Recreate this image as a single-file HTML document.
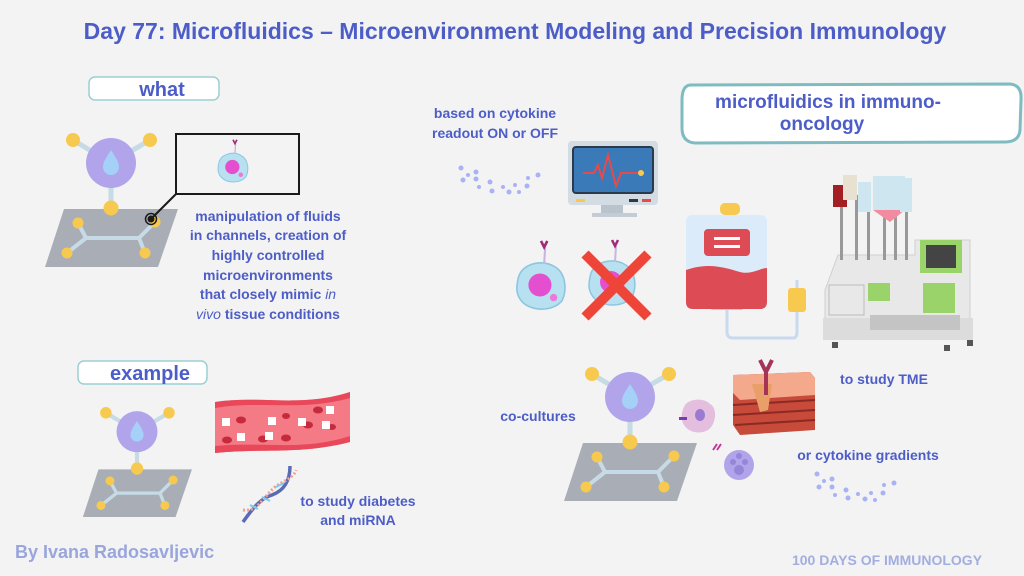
<!DOCTYPE html>
<html><head><meta charset="utf-8"><style>
html,body{margin:0;padding:0;background:#f3f3f3;}
svg{display:block;font-family:"Liberation Sans",sans-serif;font-weight:bold;}
</style></head><body>
<svg width="1024" height="576" viewBox="0 0 1024 576" xmlns="http://www.w3.org/2000/svg">
<defs>
<g id="chip">
  <line x1="73" y1="140" x2="111" y2="163" stroke="#c6dbe6" stroke-width="5"/>
  <line x1="150" y1="140" x2="111" y2="163" stroke="#c6dbe6" stroke-width="5"/>
  <line x1="111" y1="163" x2="111" y2="208" stroke="#c6dbe6" stroke-width="5"/>
  <polygon points="64,209 178,209 158,267 45,267" fill="#a9adb6"/>
  <polyline points="78,223 86,238 139,238 155,222" fill="none" stroke="#c6dbe6" stroke-width="4"/>
  <line x1="86" y1="238" x2="67" y2="253" stroke="#c6dbe6" stroke-width="4"/>
  <line x1="139" y1="238" x2="145" y2="253" stroke="#c6dbe6" stroke-width="4"/>
  <circle cx="111" cy="163" r="25" fill="#b1a4ea"/>
  <path d="M111 150 C106 158 103 162 103 167 A8 8 0 0 0 119 167 C119 162 116 158 111 150Z" fill="#a5d0f8"/>
  <circle cx="73" cy="140" r="7" fill="#f8c94f"/>
  <circle cx="150" cy="140" r="7" fill="#f8c94f"/>
  <circle cx="111" cy="208" r="7.5" fill="#f8c94f"/>
  <circle cx="78" cy="223" r="5.5" fill="#f8c94f"/>
  <circle cx="67" cy="253" r="5.5" fill="#f8c94f"/>
  <circle cx="145" cy="253" r="5.5" fill="#f8c94f"/>
  <circle cx="155" cy="222" r="5.5" fill="#f8c94f"/>
</g>
<g id="cell">
  <path d="M-22 -5 C-20 -20 0 -25 12 -18 C24 -12 25 5 20 15 C12 25 -8 26 -18 16 C-25 8 -23 0 -22 -5Z" fill="#b7e0f0" stroke="#8cc5e0" stroke-width="1.5"/>
  <circle cx="-1" cy="0" r="11" fill="#e44fd0"/>
  <circle cx="12" cy="12" r="3.5" fill="#e97ad8"/>
  <line x1="3" y1="-20" x2="4" y2="-36" stroke="#c8b6e0" stroke-width="2"/>
  <path d="M0 -42 l3 6 l3 -6" stroke="#a02a7a" stroke-width="2.5" fill="none"/>
</g>
</defs>

<text x="515" y="39" text-anchor="middle" font-size="23" fill="#4d5dc8">Day 77: Microfluidics – Microenvironment Modeling and Precision Immunology</text>

<!-- what -->
<rect x="89" y="77" width="130" height="23" rx="6" fill="#fff" stroke="#9bcfd2" stroke-width="1.5"/>
<text x="162" y="96" text-anchor="middle" font-size="20" fill="#4d5dc8">what</text>
<use href="#chip"/>
<rect x="176" y="134" width="123" height="60" fill="none" stroke="#1a1a1a" stroke-width="2"/>
<line x1="176" y1="194" x2="151" y2="219" stroke="#1a1a1a" stroke-width="2"/>
<circle cx="151" cy="219" r="5.5" fill="none" stroke="#1a1a1a" stroke-width="1.5"/>
<circle cx="151" cy="219" r="3.5" fill="#1a1a1a"/>
<use href="#cell" transform="translate(233,167) scale(0.65)"/>
<g font-size="14" fill="#4d5dc8" text-anchor="middle">
<text x="268" y="221">manipulation of fluids</text>
<text x="268" y="240">in channels, creation of</text>
<text x="268" y="260">highly controlled</text>
<text x="268" y="280">microenvironments</text>
<text x="268" y="299">that closely mimic <tspan font-weight="normal" font-style="italic">in</tspan></text>
<text x="268" y="319"><tspan font-weight="normal" font-style="italic">vivo</tspan> tissue conditions</text>
</g>

<!-- example -->
<rect x="78" y="361" width="129" height="23" rx="6" fill="#fff" stroke="#9bcfd2" stroke-width="1.5"/>
<text x="150" y="380" text-anchor="middle" font-size="20" fill="#4d5dc8">example</text>
<use href="#chip" transform="translate(46,298) scale(0.82)"/>
<!-- vessel -->
<path d="M215 402 C260 395 300 408 350 392 L350 442 C300 455 260 448 215 453Z" fill="#f47a86"/>
<path d="M215 402 C260 395 300 408 350 392 L350 398 C300 412 260 400 215 408Z" fill="#e9485a"/>
<path d="M215 446 C260 441 300 452 350 436 L350 442 C300 455 260 448 215 453Z" fill="#e9485a"/>
<g fill="#c52b3c"><ellipse cx="241" cy="420" rx="5" ry="3.5"/><ellipse cx="263" cy="439" rx="5" ry="3.5"/><ellipse cx="286" cy="416" rx="4" ry="3"/><ellipse cx="286" cy="438" rx="5" ry="3.5"/><ellipse cx="318" cy="410" rx="5" ry="3.5"/><ellipse cx="308" cy="425" rx="5" ry="3.5"/><ellipse cx="332" cy="427" rx="4" ry="3"/><ellipse cx="227" cy="440" rx="5" ry="3.5"/></g>
<g fill="#fff"><rect x="222" y="418" width="8" height="8"/><rect x="237" y="433" width="8" height="8"/><rect x="268" y="417" width="8" height="8"/><rect x="265" y="432" width="8" height="8"/><rect x="298" y="418" width="8" height="8"/><rect x="326" y="406" width="8" height="8"/><rect x="322" y="421" width="8" height="8"/></g>
<!-- DNA -->
<path d="M243 522 C255 505 262 498 272 495 C285 490 290 480 290 466" fill="none" stroke="#5b6bb3" stroke-width="3.5"/>
<path d="M243 510 C258 512 262 498 275 487 C283 481 294 478 296 470" fill="none" stroke="#f3a08e" stroke-width="3" stroke-dasharray="2 2"/>
<path d="M250 505 l8 4 M262 497 l8 4 M276 487 l8 -4" stroke="#7ccaf0" stroke-width="2"/>
<g font-size="14" fill="#4d5dc8" text-anchor="middle">
<text x="358" y="506">to study diabetes</text>
<text x="358" y="525">and miRNA</text>
</g>

<text x="15" y="558" font-size="18" fill="#99a6dc">By Ivana Radosavljevic</text>
<text x="887" y="565" text-anchor="middle" font-size="14" fill="#a2aee0">100 DAYS OF IMMUNOLOGY</text>

<!-- cytokine readout -->
<g font-size="14" fill="#4d5dc8" text-anchor="middle">
<text x="495" y="118">based on cytokine</text>
<text x="495" y="138">readout ON or OFF</text>
</g>
<g fill="#a8b2f5"><circle cx="461" cy="168" r="2.5"/><circle cx="468" cy="175" r="2"/><circle cx="463" cy="180" r="2.5"/><circle cx="476" cy="172" r="2.5"/><circle cx="476" cy="179" r="2.5"/><circle cx="479" cy="187" r="2"/><circle cx="490" cy="182" r="2.5"/><circle cx="492" cy="191" r="2.5"/><circle cx="503" cy="187" r="2"/><circle cx="509" cy="192" r="2.5"/><circle cx="515" cy="185" r="2"/><circle cx="519" cy="192" r="2"/><circle cx="527" cy="186" r="2.5"/><circle cx="528" cy="178" r="2"/><circle cx="538" cy="175" r="2.5"/></g>
<!-- monitor -->
<rect x="568" y="141" width="90" height="64" rx="4" fill="#d3dbe3"/>
<rect x="573" y="147" width="80" height="46" rx="3" fill="#3a7ab8" stroke="#2b3a4a" stroke-width="2"/>
<polyline points="583,173 594,173 598,165 602,178 608,155 616,186 621,173 640,173" fill="none" stroke="#e84a4a" stroke-width="2"/>
<circle cx="641" cy="173" r="3" fill="#f8c94f"/>
<rect x="576" y="199" width="9" height="3" fill="#f8c94f"/><rect x="629" y="199" width="9" height="3" fill="#2b3a4a"/><rect x="642" y="199" width="9" height="3" fill="#e84a4a"/>
<rect x="601" y="205" width="22" height="8" fill="#b9c3cc"/><rect x="592" y="213" width="45" height="4" fill="#c3ccd4"/>
<!-- cells -->
<use href="#cell" transform="translate(541,285) scale(1.05)"/>
<use href="#cell" transform="translate(612,282) scale(1.0)"/>
<path d="M585 254 L648 317 M648 254 L585 317" stroke="#ef4438" stroke-width="10"/>
<!-- IV bag -->
<rect x="720" y="203" width="20" height="12" rx="5" fill="#f8c94f"/>
<rect x="710" y="299" width="34" height="11" rx="3" fill="#f8c94f"/>
<path d="M727 310 L727 332 Q727 338 733 338 L793 338 Q797 338 797 332 L797 280" fill="none" stroke="#c8d9f0" stroke-width="3"/>
<rect x="788" y="288" width="18" height="24" rx="3" fill="#f8c94f"/>
<path d="M686 222 Q686 215 693 215 L760 215 Q767 215 767 222 L767 302 Q767 309 760 309 L693 309 Q686 309 686 302Z" fill="#dbebfa"/>
<path d="M686 270 C710 262 725 268 740 272 C752 275 760 268 767 268 L767 302 Q767 309 760 309 L693 309 Q686 309 686 302Z" fill="#dd4b55"/>
<rect x="704" y="229" width="46" height="27" rx="4" fill="#dd4b55"/>
<rect x="714" y="237" width="26" height="3" fill="#fff"/><rect x="714" y="245" width="26" height="3" fill="#fff"/>

<!-- immuno-oncology box -->
<path d="M690 85 L1010 84 Q1022 85 1021 100 L1020 130 Q1019 142 1005 142 L695 143 Q682 142 682 128 L682 100 Q682 86 690 85Z" fill="#fff" stroke="#7fbcc2" stroke-width="3"/>
<text x="828" y="108" text-anchor="middle" font-size="19" fill="#4d5dc8">microfluidics in immuno-</text>
<text x="822" y="130" text-anchor="middle" font-size="19" fill="#4d5dc8">oncology</text>

<!-- machine -->
<polygon points="825,290 838,255 915,255 915,240 970,240 970,338 825,338" fill="#e8e8e8" stroke="#cfcfcf"/>
<rect x="823" y="318" width="150" height="22" fill="#dcdcdc"/>
<rect x="870" y="315" width="90" height="15" fill="#c4c4c4"/>
<rect x="829" y="285" width="35" height="30" fill="none" stroke="#bbb"/>
<rect x="920" y="240" width="42" height="33" fill="#9ad36a"/><rect x="926" y="245" width="30" height="23" fill="#444"/>
<rect x="923" y="283" width="32" height="30" fill="#9ad36a"/>
<rect x="868" y="283" width="22" height="18" fill="#9ad36a"/>
<g fill="#999"><rect x="840" y="200" width="3" height="60"/><rect x="855" y="195" width="3" height="65"/><rect x="867" y="200" width="3" height="60"/><rect x="883" y="200" width="3" height="60"/><rect x="894" y="200" width="3" height="60"/><rect x="905" y="200" width="3" height="60"/></g>
<rect x="833" y="185" width="14" height="22" fill="#a41f24"/>
<rect x="843" y="175" width="14" height="25" fill="#e8e0d0"/>
<rect x="858" y="182" width="13" height="30" fill="#cde6f0"/>
<path d="M873 176 L905 176 L905 210 L890 222 L873 210Z" fill="#cde6f0"/>
<path d="M873 210 L905 210 L890 222Z" fill="#f28aa0"/>
<rect x="900" y="178" width="12" height="34" fill="#cde6f0"/>
<g fill="#555"><rect x="832" y="342" width="6" height="6"/><rect x="944" y="345" width="6" height="6"/><rect x="967" y="340" width="6" height="6"/></g>

<!-- chip 3 -->
<use href="#chip" transform="translate(519,234)"/>
<text x="538" y="421" text-anchor="middle" font-size="14" fill="#4d5dc8">co-cultures</text>
<!-- macrophage -->
<path d="M685 405 C690 398 705 398 710 404 C718 408 716 425 708 430 C700 435 688 432 684 425 C680 418 682 410 685 405Z" fill="#e4bede"/>
<ellipse cx="700" cy="415" rx="5" ry="6" fill="#9b7ad0"/>
<rect x="679" y="417" width="8" height="3" fill="#7c3ab0"/>
<!-- lymphocyte -->
<circle cx="739" cy="465" r="15" fill="#b1a4ea"/>
<g fill="#9586d8"><circle cx="739" cy="456" r="3"/><circle cx="733" cy="462" r="3"/><circle cx="745" cy="462" r="3"/><circle cx="739" cy="470" r="5"/></g>
<path d="M713 450 l4 -6 m0 6 l4 -6" stroke="#c03a9a" stroke-width="2"/>
<!-- tissue -->
<polygon points="733,375 810,372 815,378 815,430 740,435 733,425" fill="#c74a3a"/>
<polygon points="733,375 810,372 815,378 815,395 740,400 733,393" fill="#f4a88c"/>
<path d="M733 405 L815 400 M733 415 L815 410 M735 425 L815 420" stroke="#8a2a22" stroke-width="2"/>
<polygon points="752,384 772,384 768,410 760,412" fill="#e8a068"/>
<path d="M760 360 L766 372 L772 360 M766 372 L766 395" stroke="#a63456" stroke-width="4" fill="none"/>
<text x="884" y="384" text-anchor="middle" font-size="14" fill="#4d5dc8">to study TME</text>
<text x="868" y="460" text-anchor="middle" font-size="14" fill="#4d5dc8">or cytokine gradients</text>
<g fill="#a8b2f5"><circle cx="817" cy="474" r="2.5"/><circle cx="824" cy="481" r="2"/><circle cx="819" cy="487" r="2.5"/><circle cx="832" cy="479" r="2.5"/><circle cx="832" cy="487" r="2.5"/><circle cx="835" cy="495" r="2"/><circle cx="846" cy="490" r="2.5"/><circle cx="848" cy="498" r="2.5"/><circle cx="858" cy="494" r="2"/><circle cx="865" cy="499" r="2.5"/><circle cx="871" cy="493" r="2"/><circle cx="875" cy="500" r="2"/><circle cx="883" cy="493" r="2.5"/><circle cx="884" cy="485" r="2"/><circle cx="894" cy="483" r="2.5"/></g>
</svg>
</body></html>
